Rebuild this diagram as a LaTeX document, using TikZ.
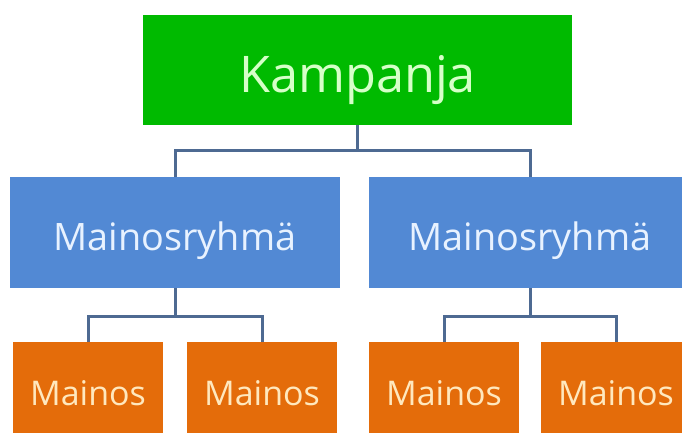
\documentclass[tikz,border=0pt]{standalone}
\usepackage{fontspec}
\setmainfont{Open Sans}
\definecolor{kgreen}{RGB}{0,186,0}
\definecolor{mblue}{RGB}{82,137,212}
\definecolor{morange}{RGB}{228,108,10}
\definecolor{conn}{RGB}{78,106,146}
\definecolor{ktext}{RGB}{214,255,200}
\definecolor{mtext}{RGB}{232,242,255}
\definecolor{otext}{RGB}{255,232,190}
\begin{document}
\begin{tikzpicture}[x=1pt,y=1pt,
  box/.style={rectangle, inner sep=0pt, outer sep=0pt, align=center, text depth=0pt},
  topbox/.style={box, fill=kgreen, text=ktext, minimum width=429, minimum height=110, text height=46pt, font=\fontsize{50.5}{56}\selectfont},
  midbox/.style={box, fill=mblue, text=mtext, minimum width=330, minimum height=111, text height=35pt, font=\fontsize{37.8}{42}\selectfont},
  leafbox/.style={box, fill=morange, text=otext, minimum width=150, minimum height=110, text height=16pt, font=\fontsize{34}{38}\selectfont},
  link/.style={draw=conn, line width=3pt}]
\useasboundingbox (0,0) rectangle (682,432);
\clip (0,0) rectangle (682,432);
\node[topbox] (k) at (357.5,362) {Kampanja};
\node[midbox] (g1) at (175,199.5) {Mainosryhmä};
\node[midbox, minimum width=322] (g2) at (530,199.5) {Mainosryhmä};
\node[leafbox] (a1) at (88,35) {Mainos};
\node[leafbox] (a2) at (262,35) {Mainos};
\node[leafbox] (a3) at (444,35) {Mainos};
\node[leafbox] (a4) at (616,35) {Mainos};
\draw[link] (k.south) -- (k.south |- 0,282) coordinate (j0);
\draw[link] (g1.north) |- (j0) -| (g2.north);
\draw[link] (g1.south) -- ++(0,-28) coordinate (j1);
\draw[link] (a1.north) |- (j1) -| (a2.north);
\draw[link] (g2.south) -- ++(0,-28) coordinate (j2);
\draw[link] (a3.north) |- (j2) -| (a4.north);
\end{tikzpicture}
\end{document}
